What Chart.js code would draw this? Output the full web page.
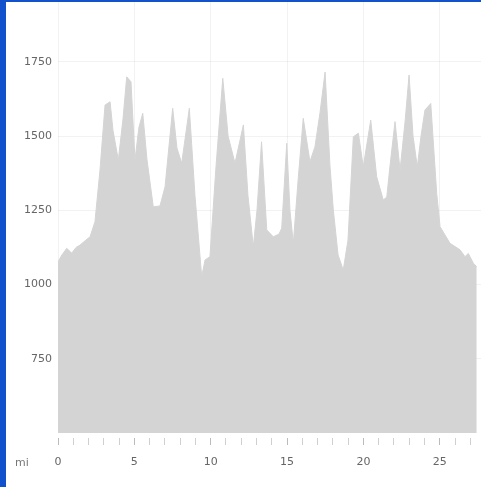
<!DOCTYPE html>
<html>
<head>
<meta charset="utf-8">
<script src="https://cdn.jsdelivr.net/npm/chart.js@4/dist/chart.umd.min.js"></script>
<style>
  html, body { margin: 0; padding: 0; background: #1152cc; width: 481px; height: 487px; overflow: hidden; }
  #wrap { position: absolute; left: 6px; top: 2px; width: 475px; height: 485px; background: #ffffff; }
  canvas { display: block; }
</style>
</head>
<body>
<div id="wrap"><canvas id="c" width="475" height="485"></canvas></div>
<script>
// Distance along the route (miles)
const distances = [
  0, 0.26, 0.57, 0.90, 1.18, 1.44, 1.83, 2.10, 2.42, 2.75,
  3.08, 3.41, 3.60, 3.95, 4.26, 4.50, 4.78, 5.04, 5.30, 5.55,
  5.83, 6.24, 6.68, 7.01, 7.51, 7.79, 8.10, 8.60, 8.97, 9.41,
  9.63, 9.95, 10.35, 10.79, 11.14, 11.59, 12.14, 12.44, 12.79, 13.03,
  13.33, 13.67, 14.10, 14.47, 14.65, 14.98, 15.19, 15.41, 15.72, 16.06,
  16.50, 16.83, 17.16, 17.49, 17.81, 18.03, 18.34, 18.68, 18.99, 19.34,
  19.67, 19.99, 20.48, 20.87, 21.30, 21.53, 21.74, 22.07, 22.40, 22.73,
  22.99, 23.25, 23.53, 23.77, 24.03, 24.41, 24.80, 25.02, 25.67, 26.33,
  26.65, 26.87, 27.20, 27.42
];
// Elevation (ft)
const elevations = [
  1077, 1100, 1122, 1106, 1125, 1133, 1150, 1161, 1212, 1386,
  1605, 1616, 1520, 1420, 1560, 1700, 1683, 1420, 1530, 1577,
  1420, 1262, 1265, 1330, 1594, 1460, 1409, 1594, 1300, 1027,
  1083, 1094, 1400, 1695, 1500, 1409, 1538, 1300, 1128, 1250,
  1481, 1184, 1161, 1170, 1190, 1476, 1250, 1139, 1350, 1560,
  1414, 1465, 1580, 1716, 1400, 1251, 1100, 1049, 1150, 1498,
  1510, 1397, 1554, 1363, 1285, 1295, 1400, 1549, 1386, 1550,
  1706, 1500, 1397, 1500, 1588, 1610, 1307, 1195, 1139, 1117,
  1094, 1105, 1072, 1060
];
const yTicks = [750, 1000, 1250, 1500, 1750];
const xMinorTicks = [0,1,2,3,4,5,6,7,8,9,10,11,12,13,14,15,16,17,18,19,20,21,22,23,24,25,26,27];
const xLabelTicks = [0, 5, 10, 15, 20, 25];
const xUnit = "mi";

const points = distances.map((d, i) => ({ x: d, y: elevations[i] }));

const unitLabel = {
  id: 'unitLabel',
  afterDraw(chart) {
    const ctx = chart.ctx;
    ctx.save();
    ctx.font = '11px "DejaVu Sans", sans-serif';
    ctx.fillStyle = '#777';
    ctx.textAlign = 'center';
    ctx.textBaseline = 'middle';
    ctx.fillText(xUnit, 16, 461);
    ctx.restore();
  }
};

new Chart(document.getElementById('c'), {
  type: 'line',
  data: {
    datasets: [{
      data: points,
      fill: 'start',
      backgroundColor: '#d4d4d4',
      borderColor: '#d4d4d4',
      borderWidth: 1,
      pointRadius: 0,
      tension: 0
    }]
  },
  options: {
    responsive: false,
    animation: false,
    layout: { padding: 0 },
    plugins: { legend: { display: false }, tooltip: { enabled: false } },
    scales: {
      x: {
        type: 'linear',
        min: 0,
        max: 27.7,
        afterBuildTicks(s) { s.ticks = xMinorTicks.map(v => ({ value: v })); },
        afterFit(s) { s.height = 54; s.paddingLeft = 0; s.paddingRight = 0; },
        border: { display: false },
        grid: {
          color: (c) => (c.tick && xLabelTicks.includes(c.tick.value)) ? 'rgba(0,0,0,0.05)' : 'rgba(0,0,0,0)',
          tickColor: (c) => (c.tick && xLabelTicks.includes(c.tick.value)) ? '#bbbbbb' : '#d0d0d0',
          tickLength: 12,
          tickBorderDash: [0, 5, 7, 100],
          lineWidth: 1
        },
        ticks: {
          autoSkip: false,
          maxRotation: 0,
          padding: 11,
          color: '#666',
          font: { family: '"DejaVu Sans", sans-serif', size: 11 },
          callback: (v) => xLabelTicks.includes(v) ? String(v) : ''
        }
      },
      y: {
        min: 500,
        max: 1952,
        afterBuildTicks(s) { s.ticks = yTicks.map(v => ({ value: v })); },
        afterFit(s) { s.width = 52; s.paddingTop = 0; s.paddingBottom = 0; },
        border: { display: false },
        grid: {
          drawTicks: false,
          color: 'rgba(0,0,0,0.05)'
        },
        ticks: {
          autoSkip: false,
          padding: 6,
          color: '#666',
          font: { family: '"DejaVu Sans", sans-serif', size: 11 },
          callback: (v) => String(v)
        }
      }
    }
  },
  plugins: [unitLabel]
});
</script>
</body>
</html>
